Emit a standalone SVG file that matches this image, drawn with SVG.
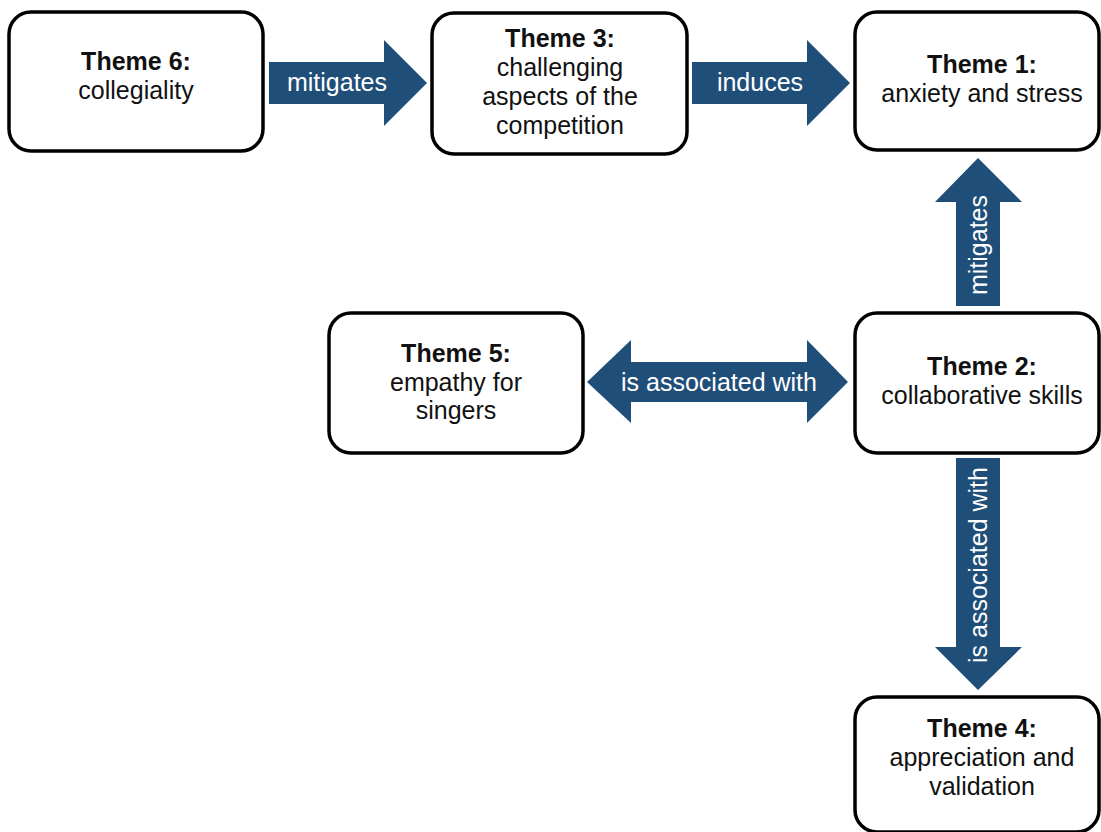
<svg xmlns="http://www.w3.org/2000/svg" width="1101" height="832" viewBox="0 0 1101 832">
  <style>
    .box { fill: #ffffff; stroke: #000000; stroke-width: 3.5; }
    .t { font-family: "Liberation Sans", Arial, sans-serif; font-size: 25px; fill: #111111; text-anchor: middle; }
    .b { font-weight: bold; }
    .arrow { fill: #1f4e79; }
    .lbl { font-family: "Liberation Sans", Arial, sans-serif; font-size: 25px; fill: #ffffff; text-anchor: middle; }
  </style>
  <rect width="1101" height="832" fill="#ffffff"/>

  <!-- connectors: block arrows with labels -->
  <g id="connectors">
    <g id="edge-6-3">
      <polygon class="arrow" points="269,62 384,62 384,40 427,83 384,126 384,104 269,104"/>
      <text class="lbl" x="337" y="91">mitigates</text>
    </g>
    <g id="edge-3-1">
      <polygon class="arrow" points="692,62 807,62 807,40 850,83 807,126 807,104 692,104"/>
      <text class="lbl" x="760" y="91">induces</text>
    </g>
    <g id="edge-2-1">
      <polygon class="arrow" points="956,306 956,202 935,202 978,158 1022,202 1000,202 1000,306"/>
      <text class="lbl" transform="translate(978,245) rotate(-90)" x="0" y="9">mitigates</text>
    </g>
    <g id="edge-5-2">
      <polygon class="arrow" points="587,382 631,340 631,362 807,362 807,340 848,382 807,423 807,402 631,402 631,423"/>
      <text class="lbl" x="719" y="391">is associated with</text>
    </g>
    <g id="edge-2-4">
      <polygon class="arrow" points="956,458 1000,458 1000,647 1022,647 978,690 935,647 956,647"/>
      <text class="lbl" transform="translate(978,565) rotate(-90)" x="0" y="9">is associated with</text>
    </g>
  </g>

  <g id="theme6">
    <rect class="box" x="9" y="12" width="254" height="139" rx="22"/>
    <text class="t b" x="136" y="70">Theme 6:</text>
    <text class="t" x="136" y="99">collegiality</text>
  </g>

  <g id="theme3">
    <rect class="box" x="432" y="13" width="255" height="141" rx="22"/>
    <text class="t b" x="560" y="47">Theme 3:</text>
    <text class="t" x="560" y="76">challenging</text>
    <text class="t" x="560" y="105">aspects of the</text>
    <text class="t" x="560" y="134">competition</text>
  </g>

  <g id="theme1">
    <rect class="box" x="855" y="12" width="244" height="138" rx="22"/>
    <text class="t b" x="982" y="73">Theme 1:</text>
    <text class="t" x="982" y="102">anxiety and stress</text>
  </g>

  <g id="theme5">
    <rect class="box" x="329" y="313" width="254" height="140" rx="22"/>
    <text class="t b" x="456" y="362">Theme 5:</text>
    <text class="t" x="456" y="391">empathy for</text>
    <text class="t" x="456" y="419">singers</text>
  </g>

  <g id="theme2">
    <rect class="box" x="855" y="313" width="244" height="140" rx="22"/>
    <text class="t b" x="982" y="375">Theme 2:</text>
    <text class="t" x="982" y="404">collaborative skills</text>
  </g>

  <g id="theme4">
    <rect class="box" x="855" y="697" width="244" height="135" rx="22"/>
    <text class="t b" x="982" y="737">Theme 4:</text>
    <text class="t" x="982" y="766">appreciation and</text>
    <text class="t" x="982" y="795">validation</text>
  </g>
</svg>
